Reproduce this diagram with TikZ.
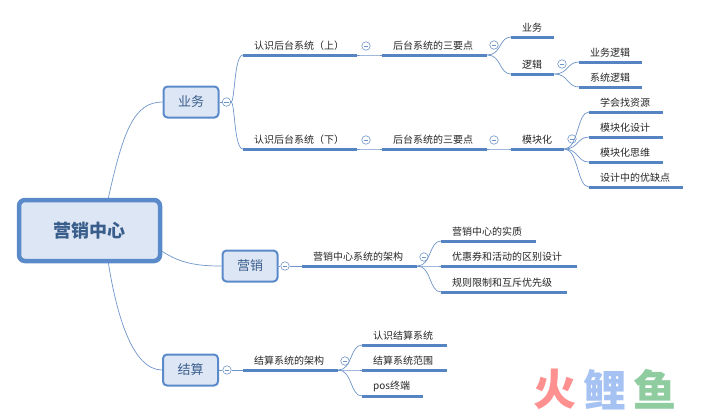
\documentclass[tikz,border=0pt]{standalone}
\usepackage{fontspec}
\setmainfont{Noto Sans CJK SC}
\definecolor{mapblue}{HTML}{5B8ACB}
\definecolor{mapfill}{HTML}{DCE6F4}
\definecolor{maptext}{HTML}{3A5E8C}
\definecolor{mapline}{HTML}{6E95C8}
\definecolor{logored}{HTML}{FF9090}
\definecolor{logoblue}{HTML}{A5C2F3}
\definecolor{logogreen}{HTML}{8FCC9F}
\begin{document}
\begin{tikzpicture}[x=1pt,y=-1pt,
  rootbox/.style={draw=mapblue,line width=4.5pt,fill=mapfill,rounded corners=6pt,minimum width=141pt,minimum height=61pt,text=maptext,font=\fontsize{18}{20}\selectfont\bfseries},
  mainbox/.style={draw=mapblue,line width=2pt,fill=mapfill,rounded corners=4pt,minimum width=55pt,minimum height=31pt,text=maptext,font=\fontsize{13}{15}\selectfont},
  topic/.style={minimum height=19pt,inner sep=0pt,anchor=south west,align=left,text=black!85,font=\fontsize{10}{12}\selectfont},
  topicline/.style={draw=mapblue!95!black,line width=3pt},
  branch/.style={draw=mapline,line width=.7pt},
  foldmark/.style={circle,draw=mapline,fill=white,line width=.6pt,minimum size=8.5pt,inner sep=0pt},
  logo/.style={inner sep=0pt,font=\fontsize{43}{45}\selectfont\bfseries}]
  \useasboundingbox (0,0) rectangle (701,413);
  \node[rootbox] (root) at (89.5,230.5) {营销中心};
  \node[mainbox] (yewu) at (191,102) {业务};
  \node[mainbox] (yingxiao) at (250,266) {营销};
  \node[mainbox] (jiesuan) at (190.5,370) {结算};
  \foreach \nm/\xa/\ww/\yy/\txt in {
    up/243/114/55/认识后台系统（上）, upkey/382/105/55/后台系统的三要点,
    upbiz/511/43/37/业务, uplogic/511/43/74/逻辑,
    bizlogic/579/63/62/业务逻辑, syslogic/579/63/87/系统逻辑,
    down/243/114/149/认识后台系统（下）, downkey/382/105/149/后台系统的三要点,
    module/511/53/149/模块化, findres/589/74/112/学会找资源,
    modplan/589/74/137/模块化设计, modthink/589/74/162/模块化思维,
    prosandcons/589/94/187/设计中的优缺点,
    arch/302/115/266/营销中心系统的架构, nature/441/95/241/营销中心的实质,
    coupon/441/136/266/优惠券和活动的区别设计, rules/441/126/292/规则限制和互斥优先级,
    payarch/243/95/370/结算系统的架构, paysys/362/85/345/认识结算系统,
    payscope/362/85/370/结算系统范围, pos/362/61/396/pos终端} {
    \node[topic,text width=\ww pt] (\nm) at (\xa,\yy) {\hspace*{11pt}\txt};
    \draw[topicline] (\nm.south west) -- (\nm.south east);
  }
  \foreach \nm/\xa/\yy in {fyewu/226.5/102, fyingxiao/285/266, fjiesuan/227/370,
    fup/366/46, fupkey/494/45, fuplogic/562/64,
    fdown/366/140, fdownkey/494/140, fmodule/572/139,
    farch/424/257, fpayarch/345/361} {
    \node[foldmark] (\nm) at (\xa,\yy) {};
    \draw[mapline,line width=.6pt] ([xshift=-2.2pt]\nm.center) -- ([xshift=2.2pt]\nm.center);
  }
  \draw[branch] (root.60) .. controls +(15,-68) and +(-28,0) .. (yewu.west);
  \draw[branch] (root.-16) .. controls +(18,12) and +(-24,0) .. (yingxiao.west);
  \draw[branch] (root.-60) .. controls +(8,50) and +(-30,0) .. (jiesuan.west);
  \draw[branch] (yewu.east) -- (fyewu.west);
  \draw[branch] (yingxiao.east) -- (fyingxiao.west);
  \draw[branch] (jiesuan.east) -- (fjiesuan.west);
  \draw[branch] (fyingxiao.east) -- (arch.south west);
  \draw[branch] (fjiesuan.east) -- (payarch.south west);
  \foreach \pa/\ch in {fyewu/up,fyewu/down} {
    \draw[branch] (\pa.east) .. controls +(4,0) and +(-9,0) .. (\ch.south west);
  }
  \foreach \pa/\ch in {up/upkey,upkey/upbiz,upkey/uplogic,uplogic/bizlogic,uplogic/syslogic,
    down/downkey,downkey/module,module/findres,module/modplan,module/modthink,module/prosandcons,
    arch/nature,arch/coupon,arch/rules,payarch/paysys,payarch/payscope,payarch/pos} {
    \draw[branch] (\pa.south east) .. controls +(14,0) and +(-12,0) .. (\ch.south west);
  }
  \node[logo,text=logored] (huo) at (555,389.5) {火};
  \node[logo,text=logoblue] (li) at (605,389.5) {鲤};
  \node[logo,text=logogreen] (yu) at (655,389.5) {鱼};
\end{tikzpicture}
\end{document}
